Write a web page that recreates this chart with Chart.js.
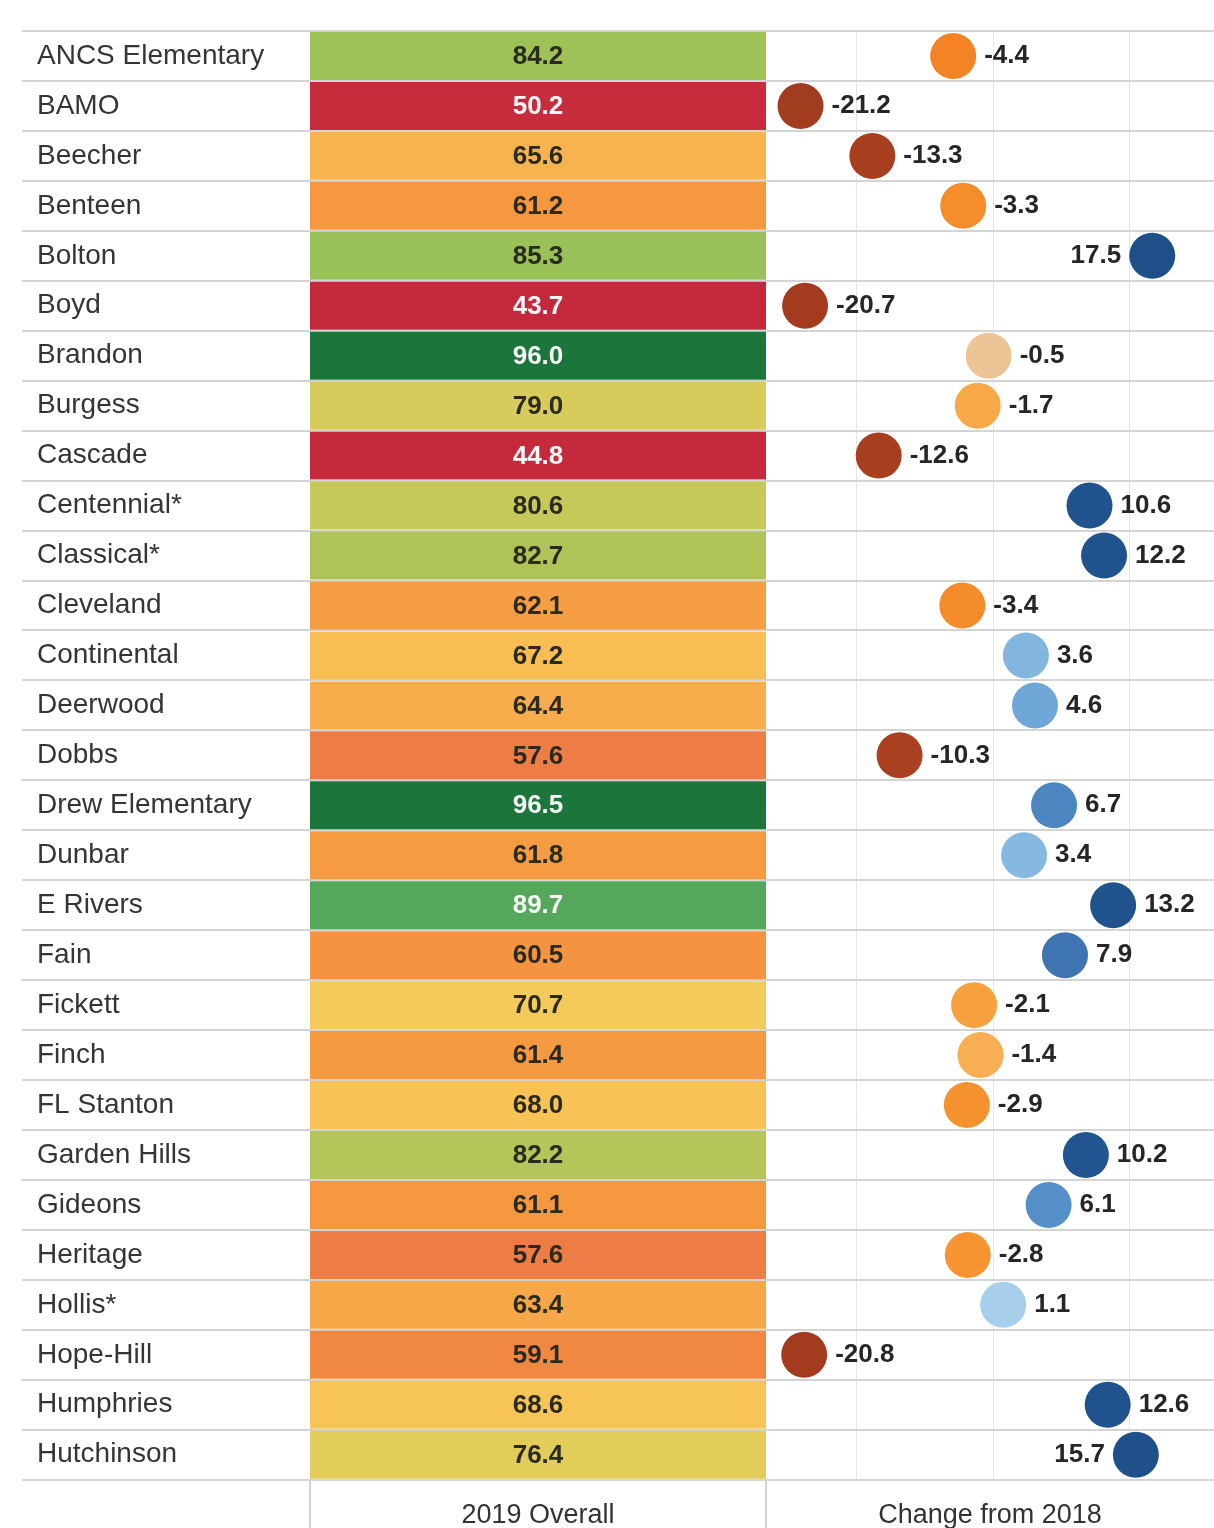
<!DOCTYPE html>
<html>
<head>
<meta charset="utf-8">
<script src="https://cdn.jsdelivr.net/npm/chart.js@4"></script>
<style>
  body { margin: 0; background: #fff; }
  canvas { display: block; }
</style>
</head>
<body>
<canvas id="schoolChart" width="1214" height="1528"></canvas>
<script>
// school names, 2019 overall score and change from 2018
const schools = ['ANCS Elementary', 'BAMO', 'Beecher', 'Benteen', 'Bolton', 'Boyd', 'Brandon', 'Burgess',
  'Cascade', 'Centennial*', 'Classical*', 'Cleveland', 'Continental', 'Deerwood', 'Dobbs', 'Drew Elementary',
  'Dunbar', 'E Rivers', 'Fain', 'Fickett', 'Finch', 'FL Stanton', 'Garden Hills', 'Gideons', 'Heritage',
  'Hollis*', 'Hope-Hill', 'Humphries', 'Hutchinson'];
const overall2019 = [84.2, 50.2, 65.6, 61.2, 85.3, 43.7, 96.0, 79.0, 44.8, 80.6, 82.7, 62.1, 67.2, 64.4, 57.6,
  96.5, 61.8, 89.7, 60.5, 70.7, 61.4, 68.0, 82.2, 61.1, 57.6, 63.4, 59.1, 68.6, 76.4];
const change2018 = [-4.4, -21.2, -13.3, -3.3, 17.5, -20.7, -0.5, -1.7, -12.6, 10.6, 12.2, -3.4, 3.6, 4.6, -10.3,
  6.7, 3.4, 13.2, 7.9, -2.1, -1.4, -2.9, 10.2, 6.1, -2.8, 1.1, -20.8, 12.6, 15.7];
const changeTicks = [-15, 0, 15];

const FONT = "'Liberation Sans', Arial, sans-serif";

// colour ramps (value -> colour)
const heatStops = [[43, '#c4283c'], [51, '#c62c3c'], [57.6, '#ee7c45'], [61, '#f5973f'], [64.5, '#f7ae4b'],
  [68, '#f8c256'], [71, '#f4cb5a'], [76.5, '#e3cd5a'], [79, '#d7cb5c'], [81, '#c3c759'], [84, '#a0c258'],
  [86, '#96c05a'], [90, '#50a55b'], [96, '#1c763c']];
const dotStops = [[-25, '#a03a1f'], [-10, '#a9401f'], [-5, '#f37e21'], [-3, '#f5902d'], [-1.5, '#f9ad4b'],
  [-0.5, '#ecc597'], [0, '#e2ddd9'], [1, '#a8cfea'], [3.5, '#84b8df'], [5, '#67a1d3'], [7, '#4781bd'],
  [8, '#3c72b0'], [10, '#215490'], [25, '#1b4a80']];

function hexToRgb(h) {
  return [parseInt(h.slice(1, 3), 16), parseInt(h.slice(3, 5), 16), parseInt(h.slice(5, 7), 16)];
}
function ramp(stops, v) {
  if (v <= stops[0][0]) return stops[0][1];
  for (let i = 1; i < stops.length; i++) {
    if (v <= stops[i][0]) {
      const t = (v - stops[i - 1][0]) / (stops[i][0] - stops[i - 1][0]);
      const a = hexToRgb(stops[i - 1][1]), b = hexToRgb(stops[i][1]);
      const c = a.map((x, k) => Math.round(x + (b[k] - x) * t));
      return `rgb(${c[0]},${c[1]},${c[2]})`;
    }
  }
  return stops[stops.length - 1][1];
}

const DOT_R = 23;

// value labels in the cells and next to the dots
const valueLabels = {
  id: 'valueLabels',
  afterDatasetsDraw(chart) {
    const ctx = chart.ctx;
    const area = chart.chartArea;
    ctx.save();
    ctx.textBaseline = 'middle';

    ctx.font = `bold 26px ${FONT}`;
    ctx.textAlign = 'center';
    chart.getDatasetMeta(0).data.forEach((el, i) => {
      const v = overall2019[i];
      ctx.fillStyle = (v < 52 || v > 88) ? '#f6f6f6' : '#2a2a1e';
      ctx.fillText(v.toFixed(1), (el.x + el.base) / 2, el.y + 1);
    });

    ctx.font = `bold 26px ${FONT}`;
    ctx.fillStyle = '#262626';
    chart.getDatasetMeta(1).data.forEach((el, i) => {
      const txt = change2018[i].toFixed(1);
      const w = ctx.measureText(txt).width;
      if (el.x + DOT_R + 8 + w > area.right - 4) {
        ctx.textAlign = 'right';
        ctx.fillText(txt, el.x - DOT_R - 8, el.y);
      } else {
        ctx.textAlign = 'left';
        ctx.fillText(txt, el.x + DOT_R + 8, el.y);
      }
    });
    ctx.restore();
  }
};

// short column separators under the table
const separators = {
  id: 'separators',
  afterDraw(chart) {
    const ctx = chart.ctx;
    ctx.save();
    ctx.strokeStyle = '#d2d2d2';
    ctx.lineWidth = 2;
    ['xHeat', 'xChg'].forEach(id => {
      const x = Math.round(chart.scales[id].left);
      ctx.beginPath();
      ctx.moveTo(x, chart.chartArea.bottom);
      ctx.lineTo(x, chart.height);
      ctx.stroke();
    });
    ctx.restore();
  }
};

const ctx = document.getElementById('schoolChart').getContext('2d');
const chart = new Chart(ctx, {
  type: 'bar',
  data: {
    labels: schools,
    datasets: [{
      type: 'bar',
      xAxisID: 'xHeat',
      yAxisID: 'y',
      data: overall2019.map(() => [0, 1]),
      backgroundColor: overall2019.map(v => ramp(heatStops, v)),
      borderWidth: 0,
      grouped: false,
      barPercentage: 0.96,
      categoryPercentage: 1
    }, {
      type: 'scatter',
      xAxisID: 'xChg',
      yAxisID: 'y',
      data: change2018.map((v, i) => ({ x: v, y: schools[i] })),
      pointRadius: DOT_R,
      pointHoverRadius: DOT_R,
      pointBackgroundColor: change2018.map(v => ramp(dotStops, v)),
      pointBorderWidth: 0,
      showLine: false
    }]
  },
  options: {
    indexAxis: 'y',
    responsive: false,
    animation: false,
    devicePixelRatio: 1,
    layout: { autoPadding: false, padding: { top: 31, left: 37, right: 0, bottom: 0 } },
    plugins: {
      legend: { display: false },
      tooltip: { enabled: false }
    },
    scales: {
      xHeat: {
        type: 'linear',
        position: 'bottom',
        stack: 'cols',
        stackWeight: 456,
        offset: false,
        min: 0,
        max: 1,
        grid: { display: false, offset: false },
        border: { display: false },
        ticks: { display: false },
        title: {
          display: true,
          text: '2019 Overall',
          color: '#333',
          font: { family: FONT, size: 27, lineHeight: 0.9 },
          padding: { top: 16, bottom: 0 }
        }
      },
      xChg: {
        type: 'linear',
        position: 'bottom',
        stack: 'cols',
        stackWeight: 448,
        offset: false,
        min: -25,
        max: 24.3,
        afterBuildTicks: scale => { scale.ticks = changeTicks.map(v => ({ value: v })); },
        grid: { color: '#e6e6e6', lineWidth: 1, drawTicks: false, offset: false },
        border: { display: false },
        ticks: { display: false },
        title: {
          display: true,
          text: 'Change from 2018',
          color: '#333',
          font: { family: FONT, size: 27, lineHeight: 0.9 },
          padding: { top: 16, bottom: 0 }
        }
      },
      y: {
        type: 'category',
        position: 'left',
        offset: true,
        afterFit: scale => { scale.width = 273; },
        grid: { offset: true, color: '#d4d4d4', lineWidth: 2, tickLength: 288 },
        border: { display: false },
        ticks: {
          crossAlign: 'far',
          color: '#353535',
          font: { family: FONT, size: 28 }
        }
      }
    }
  },
  plugins: [valueLabels, separators]
});
</script>
</body>
</html>
